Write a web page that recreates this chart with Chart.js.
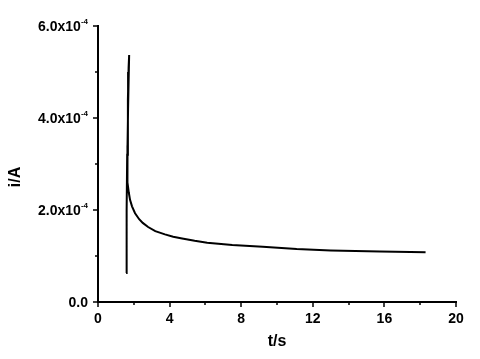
<!DOCTYPE html>
<html>
<head>
<meta charset="utf-8">
<script src="https://cdn.jsdelivr.net/npm/chart.js@4/dist/chart.umd.min.js"></script>
<style>
html,body{margin:0;padding:0;background:#fff;}
#wrap{width:480px;height:359px;position:relative;}
</style>
</head>
<body>
<div id="wrap"><canvas id="c" width="480" height="359"></canvas></div>
<script>
// time (s)
const tValues = [1.57,1.60,1.63,1.67,1.71,1.74,1.72,1.68,1.65,1.63,1.66,1.72,1.79,1.90,2.07,2.30,2.50,2.80,3.20,3.74,4.20,4.70,5.40,6.10,7.50,9.20,11.1,13.0,15.75,18.3];
// current (A)
const iValues = [0.63e-4,2.0e-4,3.2e-4,4.4e-4,5.1e-4,5.37e-4,5.0e-4,4.2e-4,3.4e-4,2.9e-4,2.6e-4,2.38e-4,2.22e-4,2.08e-4,1.93e-4,1.80e-4,1.72e-4,1.63e-4,1.54e-4,1.47e-4,1.42e-4,1.38e-4,1.33e-4,1.29e-4,1.24e-4,1.20e-4,1.15e-4,1.12e-4,1.10e-4,1.08e-4];
const xMajorTicks = [0,4,8,12,16,20];
const xMinorTicks = [2,6,10,14,18];
const yMajorTicks = [0,2e-4,4e-4,6e-4];
const yMinorTicks = [1e-4,3e-4,5e-4];
const yTickLabels = [["0.0",""],["2.0x10","-4"],["4.0x10","-4"],["6.0x10","-4"]];
const xTitle = "t/s";
const yTitle = "i/A";

const points = tValues.map((t,k)=>({x:t,y:iValues[k]}));
const FONT = "'Liberation Sans', Arial, sans-serif";

const decor = {
  id:'decor',
  afterDraw(chart){
    const ctx = chart.ctx;
    const xs = chart.scales.x, ys = chart.scales.y;
    const a = chart.chartArea;
    ctx.save();
    ctx.strokeStyle = '#000';
    ctx.lineWidth = 1.5;
    xMajorTicks.forEach(v=>{const px=Math.round(xs.getPixelForValue(v));ctx.beginPath();ctx.moveTo(px,a.bottom);ctx.lineTo(px,a.bottom+5);ctx.stroke();});
    xMinorTicks.forEach(v=>{const px=Math.round(xs.getPixelForValue(v));ctx.beginPath();ctx.moveTo(px,a.bottom);ctx.lineTo(px,a.bottom+3);ctx.stroke();});
    yMajorTicks.forEach(v=>{const py=Math.round(ys.getPixelForValue(v));ctx.beginPath();ctx.moveTo(a.left,py);ctx.lineTo(a.left-5,py);ctx.stroke();});
    yMinorTicks.forEach(v=>{const py=Math.round(ys.getPixelForValue(v));ctx.beginPath();ctx.moveTo(a.left,py);ctx.lineTo(a.left-3,py);ctx.stroke();});
    ctx.fillStyle = '#000';
    ctx.textBaseline = 'alphabetic';
    yMajorTicks.forEach((v,k)=>{
      const py = ys.getPixelForValue(v);
      const main = yTickLabels[k][0], sup = yTickLabels[k][1];
      const right = a.left - 10;
      ctx.font = "bold 8px " + FONT;
      const sw = sup ? ctx.measureText(sup).width : 0;
      if (sup){ ctx.textAlign='left'; ctx.fillText(sup, right - sw, py - 2); }
      ctx.font = "bold 14px " + FONT;
      ctx.textAlign = 'right';
      ctx.fillText(main, right - sw, py + 5);
    });
    ctx.translate(16, 177);
    ctx.rotate(-Math.PI/2);
    ctx.font = "bold 16px " + FONT;
    ctx.textAlign = 'center';
    ctx.textBaseline = 'middle';
    ctx.fillText(yTitle, 0, 0);
    ctx.restore();
  }
};

new Chart(document.getElementById('c'), {
  type:'scatter',
  data:{datasets:[{data:points, showLine:true, borderColor:'#000', borderWidth:2, pointRadius:0, tension:0, fill:false}]},
  options:{
    responsive:false, animation:false,
    layout:{padding:{left:0,top:26,right:24,bottom:0}},
    plugins:{legend:{display:false}, tooltip:{enabled:false}},
    scales:{
      x:{type:'linear', min:0, max:20,
        afterFit(s){s.height=57;},
        border:{display:true,color:'#000',width:2},
        grid:{display:false, drawTicks:false},
        afterBuildTicks(s){s.ticks = xMajorTicks.map(v=>({value:v}));},
        ticks:{autoSkip:false, maxRotation:0, padding:9, color:'#000', font:{family:FONT, size:14, weight:'bold'}, callback:(v)=>String(v)},
        title:{display:true, text:xTitle, color:'#000', padding:{top:0,bottom:8}, font:{family:FONT, size:16, weight:'bold'}}
      },
      y:{type:'linear', min:0, max:6e-4,
        afterFit(s){s.width=98;},
        border:{display:true,color:'#000',width:2},
        grid:{display:false, drawTicks:false},
        ticks:{display:false, stepSize:1e-4}
      }
    }
  },
  plugins:[decor]
});
</script>
</body>
</html>
